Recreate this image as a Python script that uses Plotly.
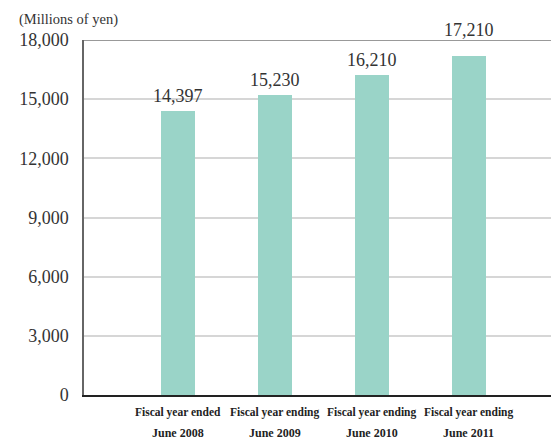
import plotly.graph_objects as go

category_line1 = ["Fiscal year ended", "Fiscal year ending", "Fiscal year ending", "Fiscal year ending"]
category_line2 = ["June 2008", "June 2009", "June 2010", "June 2011"]
values = [14397, 15230, 16210, 17210]
value_labels = ["14,397", "15,230", "16,210", "17,210"]
label_lift = [3, 3, 3, 14]
y_ticks = [0, 3000, 6000, 9000, 12000, 15000, 18000]
y_tick_labels = ["0", "3,000", "6,000", "9,000", "12,000", "15,000", "18,000"]

serif = "Liberation Serif, Times New Roman, serif"

fig = go.Figure()
fig.add_trace(go.Bar(
    x=list(range(len(values))), y=values, width=0.35,
    marker=dict(color="#9AD4C8", line=dict(width=0)),
    hoverinfo="skip",
))

for i, (v, lab, lift) in enumerate(zip(values, value_labels, label_lift)):
    fig.add_annotation(x=i, y=v, text=lab, showarrow=False, yanchor="bottom",
                       yshift=lift, font=dict(family=serif, size=18, color="#333"))

# two-line category captions under each bar
for i, (l1, l2) in enumerate(zip(category_line1, category_line2)):
    for text, shift, size in ((l1, -9, 11.5), (l2, -29, 12)):
        fig.add_annotation(x=i, y=0, text="<b>" + text + "</b>", showarrow=False,
                           yanchor="top", yshift=shift,
                           font=dict(family=serif, size=size, color="#222"))

fig.add_annotation(x=0, xref="paper", xshift=-67, y=1, yref="paper", yshift=10,
                   xanchor="left", yanchor="bottom", showarrow=False,
                   text="(Millions of yen)", font=dict(family=serif, size=14.5, color="#333"))

# darker frame line along the top of the value range
fig.add_shape(type="line", xref="paper", x0=0, x1=1, yref="y", y0=18000, y1=18000,
              line=dict(color="#777", width=1.5))

fig.update_layout(
    width=551, height=444,
    margin=dict(l=84, r=0, t=40, b=49),
    plot_bgcolor="white", paper_bgcolor="white",
    showlegend=False,
    bargap=0,
)
fig.update_xaxes(
    range=[-0.97, 3.85], showticklabels=False,
    showgrid=False, showline=True, linecolor="#222", linewidth=1.5,
    ticks="", zeroline=False,
)
fig.update_yaxes(
    range=[0, 18000], tickvals=y_ticks, ticktext=y_tick_labels,
    tickfont=dict(family=serif, size=18, color="#333"),
    showgrid=True, gridcolor="#d6d6d6", gridwidth=1.5,
    showline=True, linecolor="#666", linewidth=1.5,
    ticks="", ticklabelstandoff=10, zeroline=False,
)

fig.write_html("out.html")
